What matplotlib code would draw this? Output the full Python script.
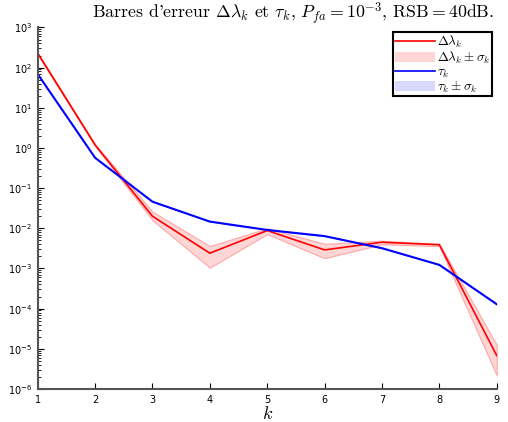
import numpy as np
import matplotlib.pyplot as plt
from matplotlib.patches import Patch
from matplotlib.lines import Line2D

plt.rcParams['mathtext.fontset'] = 'cm'

# donnees
k = [1, 2, 3, 4, 5, 6, 7, 8, 9]
dlambda = [227, 1.19, 0.020, 0.0024, 0.0088, 0.0029, 0.0045, 0.0039, 6.8e-6]
dlambda_hi = [240, 1.25, 0.026, 0.0036, 0.0100, 0.0041, 0.0049, 0.0041, 1.26e-5]
dlambda_lo = [214, 1.13, 0.016, 0.00105, 0.0072, 0.0018, 0.0040, 0.0036, 2.2e-6]
tau = [69, 0.57, 0.046, 0.0147, 0.0091, 0.0064, 0.0032, 0.00123, 1.29e-4]
tau_hi = [70, 0.58, 0.047, 0.0149, 0.0092, 0.0065, 0.00325, 0.00125, 1.31e-4]
tau_lo = [68, 0.56, 0.045, 0.0145, 0.0090, 0.0063, 0.00315, 0.00121, 1.27e-4]

fig = plt.figure(figsize=(5.08, 4.22), dpi=100)
ax = fig.add_axes([0.0742, 0.0782, 0.9036, 0.8568])

ax.fill_between(k, dlambda_lo, dlambda_hi, facecolor=(1, 0.84, 0.84), edgecolor=(1, 0.65, 0.65), lw=0.8)
ax.fill_between(k, tau_lo, tau_hi, facecolor=(0.85, 0.85, 1), edgecolor=(0.7, 0.7, 1), lw=0.5)
ax.plot(k, dlambda, color='red', lw=1.2)
ax.plot(k, tau, color='blue', lw=1.5)

ax.set_yscale('log')
ax.set_xlim(1, 9)
ax.set_ylim(1e-6, 1e3)
ax.set_xticks(k)
ax.set_yticks([10.0 ** e for e in range(-6, 4)])
ax.tick_params(axis='both', which='both', direction='in', labelsize=7, colors='black')
ax.tick_params(axis='both', which='major', length=4, pad=4)
ax.tick_params(axis='y', which='minor', length=2)
for lab in ax.get_xticklabels() + ax.get_yticklabels():
    lab.set_family('DejaVu Sans')

ax.spines['top'].set_visible(False)
ax.spines['right'].set_visible(False)
ax.spines['left'].set_color('#555555')
ax.spines['bottom'].set_color('#555555')
ax.spines['left'].set_linewidth(1.5)
ax.spines['bottom'].set_linewidth(1.5)

ax.set_xlabel('$k$', fontsize=13, labelpad=0)

fig.text(0.577, 0.957, "Barres d'erreur $\\Delta\\lambda_k$ et $\\tau_k$, $P_{fa}=10^{-3}$, RSB$=$40dB.",
         ha='center', va='baseline', fontsize=12.8, family='cmr10')

handles = [Line2D([], [], color='red', lw=1.2),
           Patch(facecolor=(1, 0.84, 0.84), edgecolor='none'),
           Line2D([], [], color='blue', lw=1.2),
           Patch(facecolor=(0.85, 0.85, 1), edgecolor='none')]
labels = ['$\\Delta\\lambda_k$', '$\\Delta\\lambda_k \\pm \\sigma_k$', '$\\tau_k$', '$\\tau_k \\pm \\sigma_k$']
leg = ax.legend(handles, labels, loc='upper right', bbox_to_anchor=(0.99, 0.987), fontsize=9.5,
                frameon=True, fancybox=False, framealpha=1, edgecolor='black',
                handlelength=3.0, handleheight=0.8, labelspacing=-0.04, borderpad=0.15,
                handletextpad=0.15, borderaxespad=0.0)
leg.get_frame().set_linewidth(1.5)

plt.savefig('out.png', dpi=100)
